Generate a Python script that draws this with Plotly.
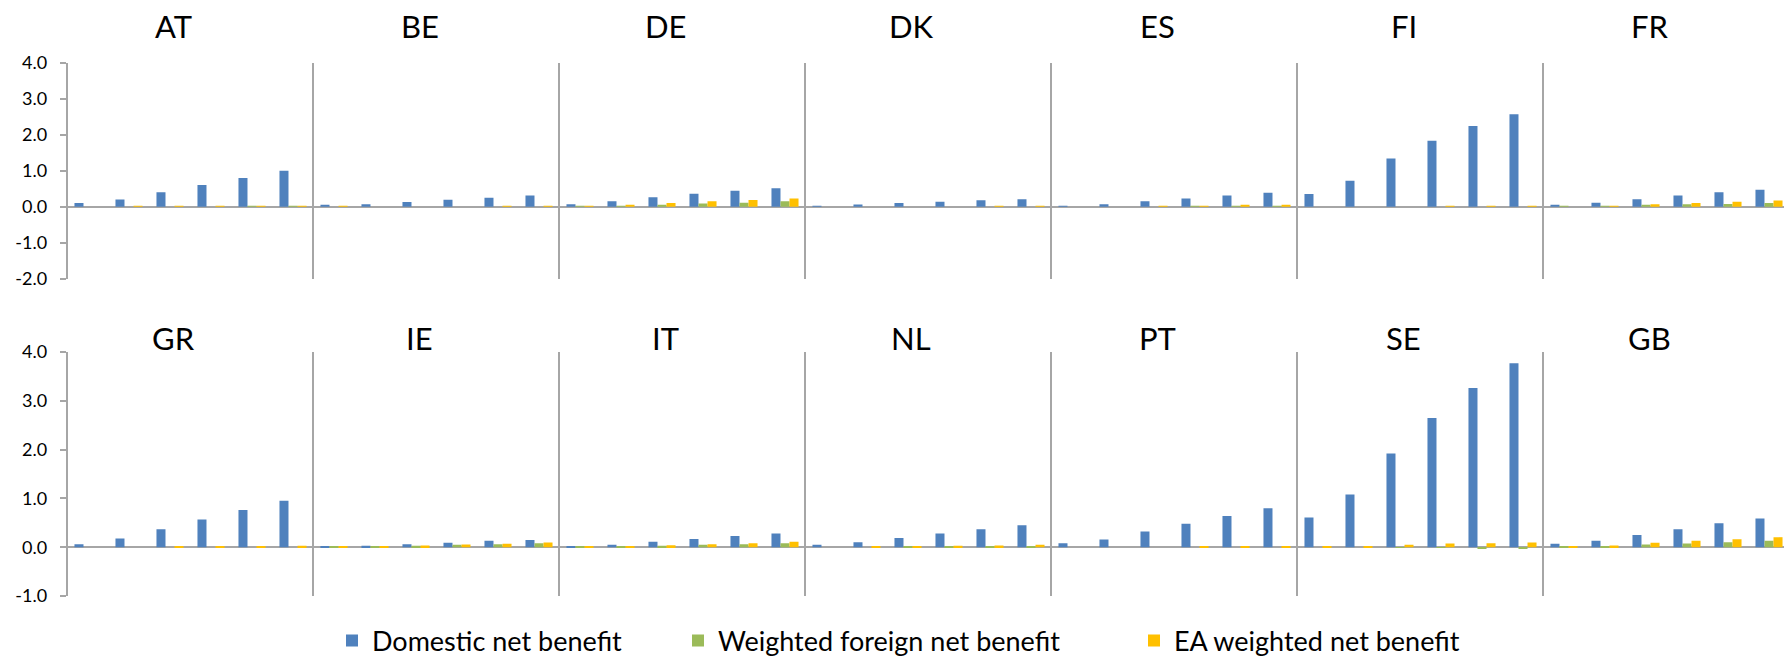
import plotly.graph_objects as go

# Country panels, top row then bottom row
countries_top = ["AT", "BE", "DE", "DK", "ES", "FI", "FR"]
countries_bottom = ["GR", "IE", "IT", "NL", "PT", "SE", "GB"]
countries = countries_top + countries_bottom

# Six scenarios per country
scenarios = [0, 1, 2, 3, 4, 5]

series_names = ["Domestic net benefit", "Weighted foreign net benefit", "EA weighted net benefit"]
series_colors = ["#4F81BD", "#9BBB59", "#FFC000"]

# One row per country (same order as `countries`)
domestic_net = [
    [0.10, 0.20, 0.40, 0.60, 0.80, 1.00],   # AT
    [0.03, 0.07, 0.13, 0.19, 0.25, 0.31],   # BE
    [0.07, 0.15, 0.26, 0.36, 0.44, 0.51],   # DE
    [0.02, 0.06, 0.10, 0.14, 0.18, 0.21],   # DK
    [0.02, 0.07, 0.15, 0.23, 0.31, 0.39],   # ES
    [0.35, 0.72, 1.34, 1.83, 2.24, 2.57],   # FI
    [0.05, 0.11, 0.21, 0.31, 0.40, 0.47],   # FR
    [0.06, 0.18, 0.37, 0.57, 0.76, 0.95],   # GR
    [0.01, 0.03, 0.06, 0.09, 0.13, 0.15],   # IE
    [0.02, 0.05, 0.11, 0.17, 0.23, 0.28],   # IT
    [0.05, 0.10, 0.19, 0.28, 0.37, 0.45],   # NL
    [0.08, 0.16, 0.32, 0.48, 0.64, 0.80],   # PT
    [0.61, 1.08, 1.92, 2.65, 3.26, 3.77],   # SE
    [0.07, 0.13, 0.25, 0.37, 0.49, 0.59],   # GB
]

foreign_net = [
    [0.000, 0.000, 0.000, 0.000, 0.005, 0.005],   # AT
    [0.000, 0.000, 0.000, 0.000, 0.000, 0.000],   # BE
    [0.005, 0.020, 0.055, 0.090, 0.110, 0.150],   # DE
    [0.000, 0.000, 0.000, 0.000, 0.000, 0.000],   # DK
    [0.000, 0.000, 0.000, 0.005, 0.010, 0.010],   # ES
    [0.000, 0.000, 0.000, 0.000, 0.000, 0.000],   # FI
    [0.005, 0.010, 0.040, 0.065, 0.075, 0.100],   # FR
    [0.000, 0.000, 0.000, 0.000, 0.000, 0.000],   # GR
    [0.005, 0.010, 0.030, 0.050, 0.060, 0.080],   # IE
    [0.005, 0.015, 0.030, 0.050, 0.060, 0.080],   # IT
    [0.000, 0.000, 0.005, 0.010, 0.020, 0.025],   # NL
    [0.000, 0.000, 0.000, 0.000, 0.000, 0.000],   # PT
    [0.000, 0.000, -0.005, -0.010, -0.020, -0.030],  # SE
    [0.005, 0.020, 0.055, 0.075, 0.100, 0.130],   # GB
]

ea_net = [
    [0.000, 0.005, 0.005, 0.010, 0.020, 0.025],   # AT
    [0.005, 0.000, 0.000, 0.000, 0.010, 0.010],   # BE
    [0.010, 0.040, 0.100, 0.150, 0.185, 0.230],   # DE
    [0.000, 0.000, 0.000, 0.000, 0.005, 0.005],   # DK
    [0.000, 0.000, 0.010, 0.015, 0.035, 0.050],   # ES
    [0.000, 0.000, 0.000, 0.010, 0.010, 0.020],   # FI
    [0.000, 0.010, 0.070, 0.100, 0.140, 0.170],   # FR
    [0.000, 0.000, 0.005, 0.010, 0.020, 0.030],   # GR
    [0.005, 0.010, 0.035, 0.055, 0.070, 0.095],   # IE
    [0.005, 0.015, 0.040, 0.060, 0.080, 0.110],   # IT
    [0.000, 0.010, 0.020, 0.030, 0.035, 0.050],   # NL
    [0.000, 0.000, 0.000, 0.005, 0.010, 0.010],   # PT
    [0.010, 0.020, 0.050, 0.075, 0.080, 0.095],   # SE
    [0.010, 0.035, 0.090, 0.130, 0.165, 0.205],   # GB
]

y_ticks_top = [-2.0, -1.0, 0.0, 1.0, 2.0, 3.0, 4.0]
y_ticks_bottom = [-1.0, 0.0, 1.0, 2.0, 3.0, 4.0]

# Page geometry (pixels)
W, H = 1784, 659
left0 = 67.5          # left edge of first panel
panel_w = 246.0       # width of each panel
rows_px = [(62.7, 278.7), (352.0, 596.0)]  # (top, bottom) of each row's plot area
title_y_px = [26, 338]
axis_color = "#A6A6A6"
font_family = "Lato, Carlito, Calibri, sans-serif"

fig = go.Figure()
layout = {}
annotations = []

for idx, country in enumerate(countries):
    row = idx // 7
    col = idx % 7
    n = idx + 1
    xa = "x" if n == 1 else f"x{n}"
    ya = "y" if n == 1 else f"y{n}"
    xkey = "xaxis" if n == 1 else f"xaxis{n}"
    ykey = "yaxis" if n == 1 else f"yaxis{n}"

    x_left = left0 + panel_w * col
    x_right = x_left + panel_w
    x_hi = min(x_right, W)
    x_range_hi = -0.5 + 6 * (x_hi - x_left) / panel_w

    top_px, bot_px = rows_px[row]

    for s, (name, color, data) in enumerate(zip(series_names, series_colors,
                                                  [domestic_net, foreign_net, ea_net])):
        fig.add_trace(go.Bar(
            x=scenarios, y=data[idx], name=name,
            marker=dict(color=color, line=dict(width=0)),
            xaxis=xa, yaxis=ya,
            showlegend=(idx == 0),
            legend=["legend", "legend2", "legend3"][s],
            hoverinfo="skip",
        ))

    layout[xkey] = dict(
        domain=[x_left / W, x_hi / W],
        range=[-0.5, x_range_hi],
        anchor=ya,
        showticklabels=False, ticks="", showline=False, showgrid=False,
        zeroline=False, fixedrange=True,
    )
    ticks = y_ticks_top if row == 0 else y_ticks_bottom
    ydict = dict(
        domain=[1 - bot_px / H, 1 - top_px / H],
        range=[ticks[0], ticks[-1]],
        anchor=xa,
        showgrid=False,
        showline=True, linecolor=axis_color, linewidth=1.5,
        zeroline=True, zerolinecolor=axis_color, zerolinewidth=1.8,
        fixedrange=True,
    )
    if col == 0:
        ydict.update(
            tickmode="array", tickvals=ticks,
            ticktext=[f"{t:.1f}" for t in ticks],
            ticks="outside", ticklen=6, tickwidth=1.5, tickcolor=axis_color,
            tickfont=dict(family=font_family, size=18, color="#000000"),
            ticklabelstandoff=9,
        )
    else:
        ydict.update(showticklabels=False, ticks="")
    layout[ykey] = ydict

    annotations.append(dict(
        text=country, xref="paper", yref="paper",
        x=(x_left + panel_w / 2 - 17) / W, y=1 - title_y_px[row] / H,
        xanchor="center", yanchor="middle", showarrow=False,
        font=dict(family=font_family, size=31, color="#000000"),
    ))

legend_text_x = [374, 720, 1176]
legend_y = 1 - 641 / H
legend_common = dict(
    orientation="h", yanchor="middle", xanchor="left",
    bgcolor="rgba(0,0,0,0)", borderwidth=0,
    font=dict(family=font_family, size=27, color="#000000"),
)
layout["legend"] = dict(x=(legend_text_x[0] - 42) / W, y=legend_y, **legend_common)
layout["legend2"] = dict(x=(legend_text_x[1] - 42) / W, y=legend_y, **legend_common)
layout["legend3"] = dict(x=(legend_text_x[2] - 42) / W, y=legend_y, **legend_common)

fig.update_layout(
    width=W, height=H,
    margin=dict(l=0, r=0, t=0, b=0, autoexpand=False),
    paper_bgcolor="#FFFFFF", plot_bgcolor="rgba(0,0,0,0)",
    barmode="group", bargap=0.34, bargroupgap=0.0,
    annotations=annotations,
    font=dict(family=font_family),
    **layout,
)

fig.write_html("out.html", config={"displayModeBar": False})
